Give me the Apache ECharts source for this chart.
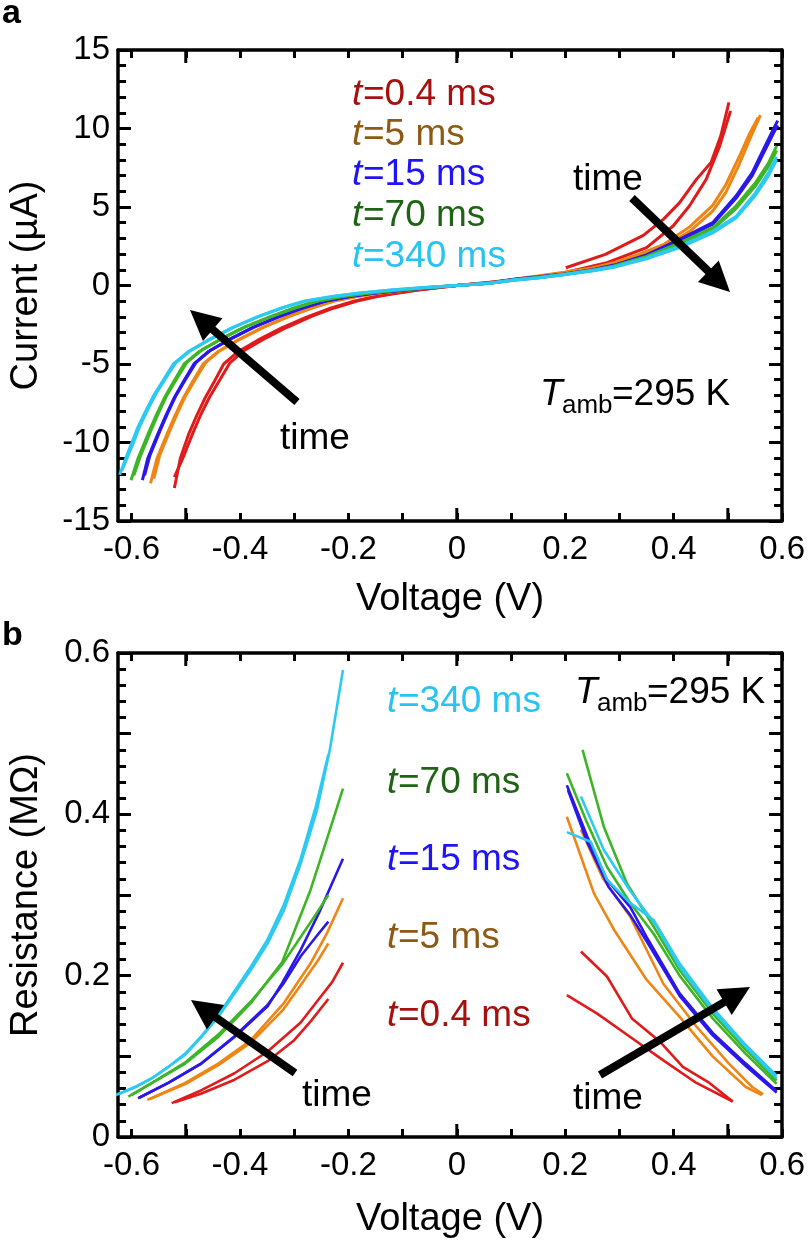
<!DOCTYPE html>
<html>
<head>
<meta charset="utf-8">
<script src="https://cdn.jsdelivr.net/npm/echarts@6/dist/echarts.min.js"></script>
<style>
  html, body { margin: 0; padding: 0; background: #fff; }
  #main { width: 808px; height: 1249px; }
</style>
</head>
<body>
<div id="main"></div>
<script>
// ---- axis values ----
var xLabelVals = [-0.6, -0.4, -0.2, 0, 0.2, 0.4, 0.6];
var xMinorTicks = [-0.6, -0.5, -0.4, -0.3, -0.2, -0.1, 0, 0.1, 0.2, 0.3, 0.4, 0.5, 0.6];
var xMajorTicks = [-0.5, 0, 0.5];

// ---- panel a: current (uA) vs voltage (V) ----
var ivRed1 = [[-0.521,-12.9],[-0.51,-11.0],[-0.495,-9.5],[-0.48,-8.3],[-0.465,-7.2],[-0.447,-6.1],[-0.43,-5.0],[-0.403,-4.2],[-0.368,-3.5],[-0.323,-2.7],[-0.276,-2.0],[-0.233,-1.45],[-0.19,-1.0],[-0.15,-0.7],[-0.115,-0.5],[-0.075,-0.3],[-0.035,-0.14],[0,0],[0.06,0.18],[0.107,0.38],[0.15,0.58],[0.198,0.81],[0.277,1.45],[0.35,2.41],[0.399,3.79],[0.429,5.06],[0.46,6.76],[0.485,8.89],[0.505,11.12]];
var ivRed2 = [[-0.521,-12.2],[-0.503,-10.8],[-0.487,-9.4],[-0.472,-8.2],[-0.456,-7.1],[-0.437,-6.0],[-0.419,-4.95],[-0.393,-4.15],[-0.358,-3.45],[-0.313,-2.66],[-0.268,-1.97],[-0.226,-1.43],[-0.184,-0.99],[-0.145,-0.69],[-0.111,-0.49],[-0.072,-0.29],[-0.034,-0.13],[0,0],[0.06,0.2],[0.1,0.35]];
var ivRed3 = [[0.201,1.13],[0.274,1.98],[0.344,3.19],[0.381,4.21],[0.411,5.28],[0.442,6.76],[0.469,7.83],[0.487,9.53],[0.502,11.66]];
var ivOrange1 = [[-0.565,-12.6],[-0.553,-11.0],[-0.535,-9.5],[-0.52,-8.3],[-0.505,-7.2],[-0.487,-6.1],[-0.468,-5.0],[-0.44,-4.2],[-0.405,-3.5],[-0.36,-2.7],[-0.313,-2.0],[-0.27,-1.45],[-0.228,-1.0],[-0.185,-0.7],[-0.145,-0.5],[-0.095,-0.3],[-0.048,-0.14],[0,0],[0.06,0.16],[0.107,0.4],[0.15,0.57],[0.198,0.8],[0.25,1.05],[0.29,1.35],[0.335,1.85],[0.381,2.4],[0.43,3.47],[0.472,4.74],[0.496,5.92],[0.521,7.72],[0.539,9.21],[0.56,10.85]];
var ivOrange2 = [[-0.559,-12.3],[-0.548,-10.8],[-0.53,-9.3],[-0.515,-8.1],[-0.5,-7.0],[-0.482,-5.95],[-0.463,-4.9],[-0.436,-4.12],[-0.401,-3.43],[-0.356,-2.65],[-0.309,-1.96],[-0.266,-1.42],[-0.225,-0.98],[-0.182,-0.68],[-0.142,-0.48],[-0.093,-0.29],[-0.047,-0.13],[0,0],[0.06,0.17],[0.107,0.42],[0.15,0.6],[0.198,0.84],[0.25,1.12],[0.29,1.45],[0.335,1.98],[0.381,2.6],[0.43,3.75],[0.472,5.1],[0.496,6.4],[0.521,8.2],[0.539,9.6],[0.556,10.7]];
var ivBlue1 = [[-0.58,-12.4],[-0.57,-11.0],[-0.552,-9.5],[-0.537,-8.3],[-0.522,-7.2],[-0.504,-6.1],[-0.485,-5.0],[-0.458,-4.2],[-0.423,-3.5],[-0.378,-2.7],[-0.33,-2.0],[-0.287,-1.45],[-0.244,-1.0],[-0.198,-0.7],[-0.155,-0.5],[-0.1,-0.3],[-0.05,-0.14],[0,0],[0.06,0.16],[0.107,0.4],[0.15,0.55],[0.198,0.74],[0.25,1.0],[0.29,1.3],[0.35,1.95],[0.411,2.94],[0.472,4.0],[0.515,5.7],[0.545,7.19],[0.563,8.47],[0.584,9.96],[0.592,10.5]];
var ivBlue2 = [[-0.576,-12.1],[-0.566,-10.8],[-0.548,-9.3],[-0.533,-8.1],[-0.518,-7.0],[-0.5,-5.95],[-0.481,-4.9],[-0.454,-4.12],[-0.419,-3.43],[-0.374,-2.65],[-0.326,-1.96],[-0.283,-1.42],[-0.24,-0.98],[-0.195,-0.68],[-0.152,-0.48],[-0.098,-0.29],[-0.049,-0.13],[0,0],[0.06,0.15],[0.107,0.38],[0.15,0.53],[0.198,0.72],[0.25,0.97],[0.29,1.26],[0.35,1.9],[0.411,2.86],[0.472,3.9],[0.515,5.55],[0.545,7.0],[0.563,8.25],[0.584,9.7],[0.592,10.2]];
var ivGreen1 = [[-0.601,-12.4],[-0.588,-11.0],[-0.57,-9.5],[-0.555,-8.3],[-0.54,-7.2],[-0.522,-6.1],[-0.503,-5.0],[-0.475,-4.2],[-0.44,-3.5],[-0.395,-2.7],[-0.345,-2.0],[-0.302,-1.45],[-0.26,-1.0],[-0.212,-0.7],[-0.166,-0.5],[-0.11,-0.3],[-0.055,-0.14],[0,0],[0.06,0.15],[0.107,0.37],[0.15,0.52],[0.198,0.72],[0.25,0.98],[0.29,1.25],[0.35,1.85],[0.411,2.72],[0.472,3.68],[0.515,5.06],[0.551,6.55],[0.575,7.8],[0.59,8.9]];
var ivGreen2 = [[-0.596,-12.1],[-0.583,-10.8],[-0.565,-9.3],[-0.55,-8.1],[-0.535,-7.0],[-0.517,-5.95],[-0.498,-4.9],[-0.47,-4.1],[-0.435,-3.42],[-0.39,-2.64],[-0.34,-1.95],[-0.297,-1.42],[-0.255,-0.98],[-0.208,-0.68],[-0.162,-0.48],[-0.107,-0.29],[-0.053,-0.13],[0,0],[0.06,0.14],[0.107,0.35],[0.15,0.5],[0.198,0.7],[0.25,0.95],[0.29,1.21],[0.35,1.8],[0.411,2.64],[0.472,3.58],[0.515,4.9],[0.551,6.35],[0.575,7.6],[0.59,8.6]];
var ivCyan1 = [[-0.622,-12.06],[-0.605,-10.5],[-0.588,-9.0],[-0.574,-8.0],[-0.559,-7.0],[-0.541,-6.0],[-0.523,-5.0],[-0.495,-4.2],[-0.46,-3.5],[-0.415,-2.7],[-0.368,-2.0],[-0.325,-1.45],[-0.282,-1.0],[-0.23,-0.7],[-0.18,-0.48],[-0.12,-0.28],[-0.06,-0.13],[0,0],[0.06,0.15],[0.107,0.36],[0.15,0.5],[0.198,0.7],[0.25,0.95],[0.29,1.2],[0.35,1.75],[0.411,2.5],[0.472,3.45],[0.515,4.4],[0.551,5.9],[0.575,7.2],[0.59,8.2]];
var ivCyan2 = [[-0.618,-11.8],[-0.601,-10.4],[-0.584,-8.9],[-0.57,-7.9],[-0.555,-6.9],[-0.537,-5.9],[-0.519,-4.95],[-0.491,-4.15],[-0.456,-3.45],[-0.411,-2.65],[-0.364,-1.95],[-0.321,-1.42],[-0.278,-0.98],[-0.226,-0.68],[-0.176,-0.47],[-0.117,-0.27],[-0.058,-0.12],[0,0],[0.06,0.14],[0.107,0.34],[0.15,0.48],[0.198,0.68],[0.25,0.92],[0.29,1.16],[0.35,1.7],[0.411,2.42],[0.472,3.35],[0.515,4.3],[0.551,5.75],[0.575,7.0],[0.59,8.0]];

// ---- panel b: resistance (MOhm) vs voltage (V), negative and positive branches ----
var rvRedL1 = [[-0.526,0.042],[-0.471,0.058],[-0.41,0.079],[-0.349,0.106],[-0.288,0.142],[-0.258,0.168],[-0.23,0.192],[-0.21,0.216]];
var rvRedL2 = [[-0.52,0.043],[-0.471,0.054],[-0.41,0.071],[-0.349,0.094],[-0.3,0.12],[-0.27,0.143],[-0.237,0.171]];
var rvOrangeL1 = [[-0.571,0.046],[-0.501,0.067],[-0.44,0.091],[-0.38,0.12],[-0.319,0.166],[-0.27,0.215],[-0.24,0.252],[-0.21,0.296]];
var rvOrangeL2 = [[-0.566,0.047],[-0.5,0.066],[-0.44,0.089],[-0.38,0.117],[-0.32,0.158],[-0.28,0.196],[-0.255,0.22],[-0.237,0.24]];
var rvBlueL1 = [[-0.588,0.048],[-0.532,0.067],[-0.471,0.091],[-0.41,0.124],[-0.349,0.162],[-0.322,0.191],[-0.288,0.232],[-0.252,0.281],[-0.21,0.345]];
var rvBlueL2 = [[-0.585,0.049],[-0.53,0.068],[-0.47,0.092],[-0.41,0.125],[-0.35,0.163],[-0.32,0.19],[-0.288,0.224],[-0.26,0.248],[-0.237,0.267]];
var rvGreenL1 = [[-0.606,0.05],[-0.562,0.067],[-0.501,0.091],[-0.44,0.124],[-0.38,0.166],[-0.322,0.217],[-0.27,0.306],[-0.234,0.381],[-0.21,0.432]];
var rvGreenL2 = [[-0.6,0.052],[-0.56,0.068],[-0.5,0.093],[-0.44,0.127],[-0.38,0.168],[-0.322,0.214],[-0.288,0.248],[-0.26,0.276],[-0.237,0.3]];
var rvCyanL1 = [[-0.629,0.052],[-0.593,0.062],[-0.562,0.073],[-0.532,0.087],[-0.501,0.102],[-0.471,0.124],[-0.44,0.149],[-0.41,0.178],[-0.38,0.207],[-0.349,0.24],[-0.319,0.281],[-0.288,0.339],[-0.258,0.405],[-0.234,0.481],[-0.21,0.579]];
var rvCyanL2 = [[-0.625,0.053],[-0.59,0.063],[-0.56,0.074],[-0.53,0.088],[-0.5,0.104],[-0.47,0.126],[-0.44,0.151],[-0.41,0.181],[-0.38,0.211],[-0.349,0.245],[-0.319,0.288],[-0.288,0.345],[-0.26,0.41],[-0.237,0.474]];

var rvRedR1 = [[0.229,0.23],[0.277,0.199],[0.323,0.147],[0.375,0.118],[0.417,0.087],[0.466,0.067],[0.509,0.044]];
var rvRedR2 = [[0.203,0.176],[0.259,0.153],[0.32,0.124],[0.381,0.095],[0.442,0.067],[0.509,0.044]];
var rvOrangeR1 = [[0.203,0.397],[0.253,0.302],[0.29,0.257],[0.35,0.195],[0.411,0.149],[0.472,0.1],[0.533,0.062],[0.563,0.052]];
var rvOrangeR2 = [[0.229,0.381],[0.27,0.32],[0.32,0.273],[0.381,0.19],[0.442,0.137],[0.502,0.091],[0.545,0.062],[0.565,0.053]];
var rvBlueR1 = [[0.203,0.436],[0.241,0.372],[0.277,0.319],[0.32,0.285],[0.35,0.248],[0.411,0.178],[0.472,0.129],[0.533,0.091],[0.59,0.057]];
var rvBlueR2 = [[0.205,0.43],[0.241,0.365],[0.28,0.31],[0.32,0.275],[0.35,0.243],[0.411,0.175],[0.472,0.126],[0.533,0.088],[0.59,0.055]];
var rvGreenR1 = [[0.232,0.48],[0.271,0.385],[0.314,0.314],[0.363,0.261],[0.411,0.207],[0.472,0.153],[0.533,0.108],[0.59,0.07]];
var rvGreenR2 = [[0.203,0.451],[0.24,0.39],[0.277,0.335],[0.32,0.29],[0.363,0.252],[0.411,0.2],[0.472,0.147],[0.533,0.103],[0.59,0.066]];
var rvCyanR1 = [[0.229,0.422],[0.271,0.356],[0.32,0.305],[0.369,0.261],[0.411,0.211],[0.472,0.157],[0.533,0.112],[0.59,0.073]];
var rvCyanR2 = [[0.203,0.378],[0.247,0.366],[0.277,0.319],[0.32,0.29],[0.363,0.269],[0.411,0.215],[0.472,0.16],[0.533,0.114],[0.59,0.076]];

// labels for the five curves
var timeLabels = ['0.4 ms', '5 ms', '15 ms', '70 ms', '340 ms'];
var lineColors = ['#e01b1b', '#ef8514', '#2a17e8', '#3db526', '#2ccaf2'];
var textColors = ['#a6110f', '#8c5a14', '#1e14f5', '#1e6414', '#29c3f2'];

var FONT = '"Liberation Sans", Arial, Helvetica, sans-serif';
var X_MIN = -0.625, X_MAX = 0.6;

var myChart = echarts.init(document.getElementById('main'));

function fmtX(v) {
    if (Math.abs(v) < 1e-9) return '0';
    return v.toFixed(1);
}
function fmtIA(v) { return String(v); }
function fmtR(v) {
    var k = Math.round(v * 10);
    if (k % 2 !== 0) return '';
    return k === 0 ? '0' : (k / 10).toFixed(1);
}

var frameLine = {show: true, onZero: false, lineStyle: {color: '#000', width: 3.5}};
var tickStyle = {color: '#000', width: 3};

// bottom axis carries labels; top axis mirrors the ticks and closes the frame
function xAxesFor(gi, nameGap) {
    return [{
        type: 'value', gridIndex: gi, min: X_MIN, max: X_MAX, position: 'bottom',
        splitLine: {show: false}, axisLine: frameLine,
        axisTick: {show: true, inside: true, length: 8, lineStyle: tickStyle, customValues: xMinorTicks},
        name: 'Voltage (V)', nameLocation: 'middle', nameGap: nameGap,
        nameTextStyle: {fontFamily: FONT, fontSize: 38, color: '#000'},
        axisLabel: {customValues: xLabelVals, formatter: fmtX, fontFamily: FONT, fontSize: 33, color: '#000', margin: 12}
    }, {
        type: 'value', gridIndex: gi, min: X_MIN, max: X_MAX, position: 'top',
        splitLine: {show: false}, axisLine: frameLine,
        axisTick: {show: true, inside: true, length: 8, lineStyle: tickStyle, customValues: xMinorTicks},
        axisLabel: {show: false}
    }];
}
function yAxesFor(gi, min, max, interval, name, fmt) {
    var common = {
        type: 'value', gridIndex: gi, min: min, max: max, interval: interval,
        splitLine: {show: false}, axisLine: frameLine,
        axisTick: {show: true, inside: true, length: 13, lineStyle: tickStyle},
        minorTick: {show: true, splitNumber: 5, length: 8, lineStyle: tickStyle}
    };
    return [
        Object.assign({}, common, {
            position: 'left',
            name: name, nameLocation: 'middle', nameGap: 72,
            nameTextStyle: {fontFamily: FONT, fontSize: 38, color: '#000'},
            axisLabel: {formatter: fmt, fontFamily: FONT, fontSize: 33, color: '#000', margin: 8}
        }),
        Object.assign({}, common, {position: 'right', axisLabel: {show: false}})
    ];
}

var series = [];
function addLine(data, color, xi, yi, w) {
    series.push({
        type: 'line', data: data, xAxisIndex: xi, yAxisIndex: yi,
        showSymbol: false, symbol: 'none', smooth: false, silent: true,
        lineStyle: {color: color, width: w}, z: 3
    });
}

// panel a (x axis 0, y axis 0)
var ivSets = [[ivRed1, ivRed2, ivRed3], [ivOrange1, ivOrange2], [ivBlue1, ivBlue2], [ivGreen1, ivGreen2], [ivCyan1, ivCyan2]];
ivSets.forEach(function (set, k) {
    set.forEach(function (d) { addLine(d, lineColors[k], 0, 0, 3); });
});
// panel b (x axis 2, y axis 2)
var rvSets = [
    [rvRedL1, rvRedL2, rvRedR1, rvRedR2],
    [rvOrangeL1, rvOrangeL2, rvOrangeR1, rvOrangeR2],
    [rvBlueL1, rvBlueL2, rvBlueR1, rvBlueR2],
    [rvGreenL1, rvGreenL2, rvGreenR1, rvGreenR2],
    [rvCyanL1, rvCyanL2, rvCyanR1, rvCyanR2]
];
rvSets.forEach(function (set, k) {
    set.forEach(function (d) { addLine(d, lineColors[k], 2, 2, 2.6); });
});

// annotation helpers
function arrow(x1, y1, x2, y2) {
    var dx = x2 - x1, dy = y2 - y1, L = Math.sqrt(dx * dx + dy * dy);
    var ux = dx / L, uy = dy / L, hl = 30, hw = 15;
    var bx = x2 - ux * hl, by = y2 - uy * hl;
    return [
        {type: 'line', shape: {x1: x1, y1: y1, x2: bx + ux * 4, y2: by + uy * 4}, style: {stroke: '#000', lineWidth: 8}, z: 10},
        {type: 'polygon', shape: {points: [[x2, y2], [bx - uy * hw, by + ux * hw], [bx + uy * hw, by - ux * hw]]}, style: {fill: '#000'}, z: 10}
    ];
}
function label(txt, x, y, color, size, opts) {
    opts = opts || {};
    return {
        type: 'text', x: x, y: y, z: 10,
        style: {
            text: txt, fill: color, textVerticalAlign: 'middle', textAlign: 'left',
            font: (opts.italic ? 'italic ' : '') + (opts.bold ? 'bold ' : '') + size + 'px ' + FONT
        }
    };
}
function tLabel(k, x, y) {
    return [
        label('t', x, y, textColors[k], 37, {italic: true}),
        label('=' + timeLabels[k], x + 11, y, textColors[k], 37)
    ];
}
function tamb(x, y) {
    return [
        label('T', x, y, '#000', 37, {italic: true}),
        label('amb', x + 22, y + 11, '#000', 26),
        label('=295 K', x + 72, y, '#000', 37)
    ];
}

var graphics = [];
graphics.push(label('a', 2, 14, '#000', 34, {bold: true}));
graphics.push(label('b', 2, 636, '#000', 34, {bold: true}));
// panel a
var aY = [95, 135, 175, 216, 257];
for (var k = 0; k < 5; k++) graphics = graphics.concat(tLabel(k, 352, aY[k]));
graphics = graphics.concat(tamb(540, 395));
graphics.push(label('time', 573, 180, '#000', 37));
graphics.push(label('time', 280, 439, '#000', 37));
graphics = graphics.concat(arrow(632, 198, 730, 292));
graphics = graphics.concat(arrow(297, 402, 190, 310));
// panel b
var bY = [1016, 938, 860, 783, 702];
for (var k2 = 0; k2 < 5; k2++) graphics = graphics.concat(tLabel(k2, 387, bY[k2]));
graphics = graphics.concat(tamb(575, 693));
graphics.push(label('time', 302, 1096, '#000', 37));
graphics.push(label('time', 573, 1099, '#000', 37));
graphics = graphics.concat(arrow(295, 1073, 191, 1000));
graphics = graphics.concat(arrow(600, 1075, 750, 987));

var option = {
    animation: false,
    backgroundColor: '#fff',
    grid: [
        {left: 115, top: 50, width: 672, height: 471, show: false},
        {left: 115, top: 653, width: 672, height: 484, show: false}
    ],
    xAxis: xAxesFor(0, 60).concat(xAxesFor(1, 64)),
    yAxis: yAxesFor(0, -15, 15, 5, 'Current (\u00b5A)', fmtIA).concat(yAxesFor(1, 0, 0.6, 0.1, 'Resistance (M\u03a9)', fmtR)),
    series: series,
    graphic: graphics
};
myChart.setOption(option);

// longer x ticks at -0.5, 0, 0.5 on top and bottom, placed through the axis scales
try {
    var longTicks = [];
    [[0, 0, -15, 15], [2, 2, 0, 0.6]].forEach(function (p) {
        xMajorTicks.forEach(function (v) {
            var pb = myChart.convertToPixel({xAxisIndex: p[0], yAxisIndex: p[1]}, [v, p[2]]);
            var pt = myChart.convertToPixel({xAxisIndex: p[0], yAxisIndex: p[1]}, [v, p[3]]);
            if (pb && pt) {
                longTicks.push({type: 'line', z: 20, shape: {x1: pb[0], y1: pb[1], x2: pb[0], y2: pb[1] - 13}, style: {stroke: '#000', lineWidth: 3}});
                longTicks.push({type: 'line', z: 20, shape: {x1: pt[0], y1: pt[1], x2: pt[0], y2: pt[1] + 13}, style: {stroke: '#000', lineWidth: 3}});
            }
        });
    });
    myChart.setOption({graphic: graphics.concat(longTicks)});
} catch (e) { /* ticks from axes remain */ }
</script>
</body>
</html>
